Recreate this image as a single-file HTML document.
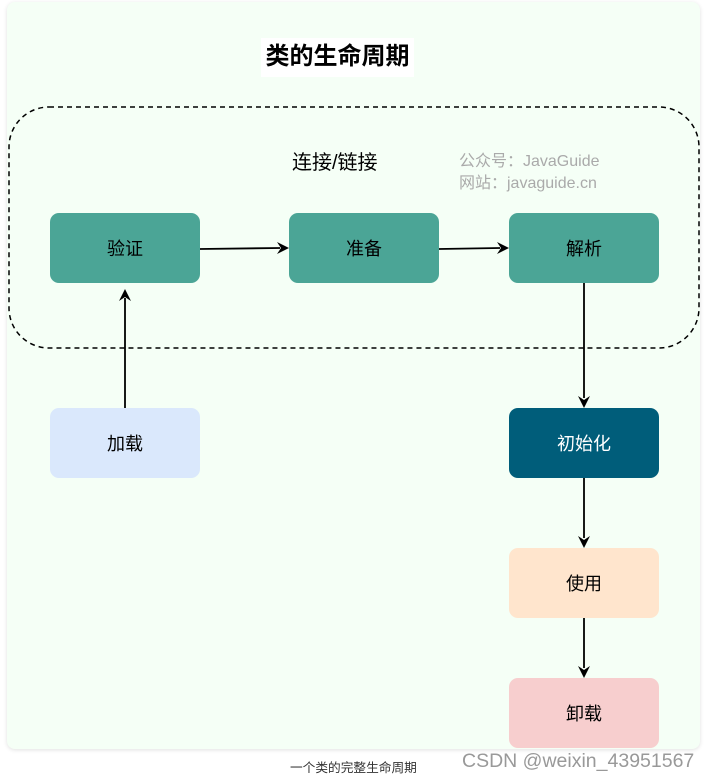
<!DOCTYPE html>
<html><head><meta charset="utf-8"><style>
body{margin:0;width:708px;height:782px;background:#fff;position:relative;overflow:hidden;font-family:"Liberation Sans","Noto Sans CJK SC",sans-serif}
.panel{position:absolute;left:7px;top:2px;width:693px;height:747px;background:#f5fff6;border-radius:8px;box-shadow:0 1px 4px rgba(0,0,0,.12)}
.b{position:absolute;width:150px;height:70px;border-radius:9px;display:flex;align-items:center;justify-content:center;font-size:18px;color:#000}
.t{position:absolute;white-space:nowrap}
</style></head><body>
<div class="panel"></div>
<div class="t" style="left:261px;top:38px;width:153px;height:39px;background:#fff"></div>
<div class="t" style="left:261px;top:40px;width:153px;text-align:center;font-size:24px;font-weight:bold;line-height:34px">类的生命周期</div>
<svg style="position:absolute;left:0;top:0" width="708" height="782">
<rect x="9" y="107" width="690" height="241" rx="40" fill="none" stroke="#000" stroke-width="1.5" stroke-dasharray="5,4"/>
<g stroke="#000" stroke-width="1.8" fill="none">
<line x1="200" y1="249" x2="280" y2="248"/>
<line x1="439" y1="249" x2="500" y2="248"/>
<line x1="125" y1="408" x2="125" y2="298"/>
<line x1="584" y1="283" x2="584" y2="398"/>
<line x1="584" y1="478" x2="584" y2="538"/>
<line x1="584" y1="618" x2="584" y2="668"/>
</g>
<g fill="#000">
<path d="M289 248 L277 242 L281 248 L277 254Z"/>
<path d="M509 248 L497 242 L501 248 L497 254Z"/>
<path d="M125 289 L119 301 L125 297 L131 301Z"/>
<path d="M584 408 L578 396 L584 400 L590 396Z"/>
<path d="M584 548 L578 536 L584 540 L590 536Z"/>
<path d="M584 678 L578 666 L584 670 L590 666Z"/>
</g>
</svg>
<div class="t" style="left:292px;top:146px;font-size:20px">连接/链接</div>
<div class="t" style="left:459px;top:151px;font-size:16px;color:#aaa;line-height:22px">公众号：JavaGuide<br>网站：javaguide.cn</div>
<div class="b" style="left:50px;top:213px;background:#4ba596">验证</div>
<div class="b" style="left:289px;top:213px;background:#4ba596">准备</div>
<div class="b" style="left:509px;top:213px;background:#4ba596">解析</div>
<div class="b" style="left:50px;top:408px;background:#dae8fc">加载</div>
<div class="b" style="left:509px;top:408px;background:#005d7a;color:#fff">初始化</div>
<div class="b" style="left:509px;top:548px;background:#ffe5cd">使用</div>
<div class="b" style="left:509px;top:678px;background:#f7cece">卸载</div>
<div class="t" style="left:290px;top:757px;font-size:12.7px;color:#333">一个类的完整生命周期</div>
<div class="t" style="left:462px;top:750px;font-size:19.5px;color:#999">CSDN @weixin_43951567</div>
</body></html>
